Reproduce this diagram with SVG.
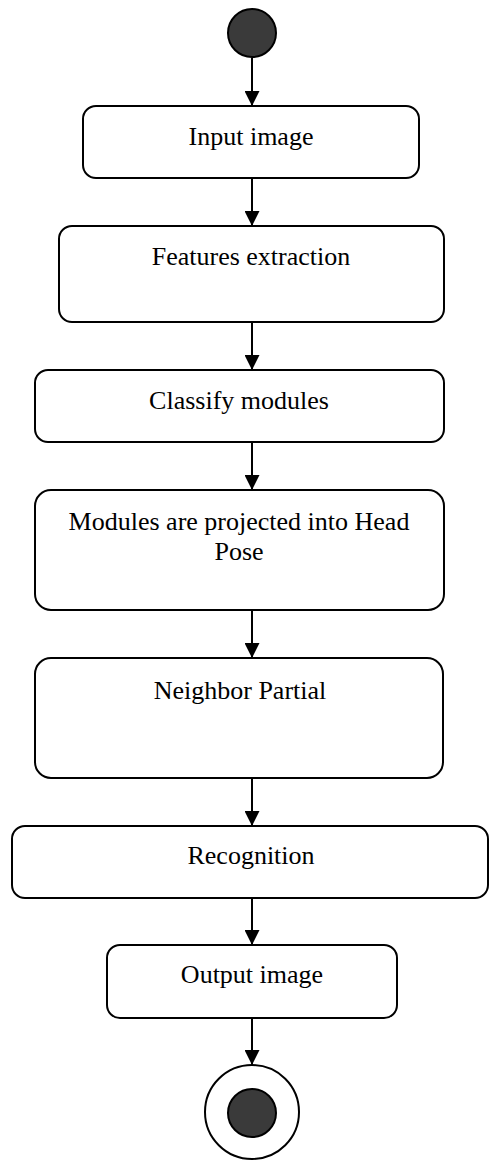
<svg xmlns="http://www.w3.org/2000/svg" width="489" height="1162" viewBox="0 0 489 1162">
<style>
.box{fill:#fff;stroke:#000;stroke-width:2}
.lbl{font-family:'Liberation Serif','Times New Roman',Times,'DejaVu Serif',serif;font-size:26px;fill:#000;text-anchor:middle}
.con{stroke:#000;stroke-width:2;fill:none}
.dot{fill:#3a3a3a;stroke:#000;stroke-width:2}
</style>
<defs>
<marker id="ah" markerWidth="15" markerHeight="15" refX="15" refY="7.5" orient="auto" markerUnits="userSpaceOnUse">
<path d="M0,0 L15,7.5 L0,15 Z" fill="#000"/>
</marker>
</defs>
<rect width="489" height="1162" fill="#fff"/>
<g id="connectors">
<line class="con" x1="252" y1="58" x2="252" y2="106" marker-end="url(#ah)"/>
<line class="con" x1="252" y1="178" x2="252" y2="226" marker-end="url(#ah)"/>
<line class="con" x1="252" y1="322" x2="252" y2="370" marker-end="url(#ah)"/>
<line class="con" x1="252" y1="442" x2="252" y2="490" marker-end="url(#ah)"/>
<line class="con" x1="252" y1="610" x2="252" y2="658" marker-end="url(#ah)"/>
<line class="con" x1="252" y1="778" x2="252" y2="826" marker-end="url(#ah)"/>
<line class="con" x1="252" y1="898" x2="252" y2="945" marker-end="url(#ah)"/>
<line class="con" x1="252" y1="1018" x2="252" y2="1065" marker-end="url(#ah)"/>
</g>
<g id="start"><circle class="dot" cx="252" cy="33" r="24"/></g>
<g id="input"><rect class="box" x="83" y="106" width="336" height="72" rx="13"/><text class="lbl" x="251" y="145">Input image</text></g>
<g id="features"><rect class="box" x="59" y="226" width="385" height="96" rx="13"/><text class="lbl" x="251" y="265">Features extraction</text></g>
<g id="classify"><rect class="box" x="35" y="370" width="409" height="72" rx="13"/><text class="lbl" x="239" y="409">Classify modules</text></g>
<g id="project"><rect class="box" x="35" y="490" width="409" height="120" rx="16"/><text class="lbl" x="239" y="530">Modules are projected into Head</text><text class="lbl" x="239" y="560">Pose</text></g>
<g id="neighbor"><rect class="box" x="35" y="658" width="408" height="120" rx="16"/><text class="lbl" x="240" y="699">Neighbor Partial</text></g>
<g id="recognition"><rect class="box" x="12" y="826" width="476" height="72" rx="13"/><text class="lbl" x="251" y="864">Recognition</text></g>
<g id="output"><rect class="box" x="107" y="945" width="290" height="73" rx="13"/><text class="lbl" x="252" y="983">Output image</text></g>
<g id="end"><circle cx="252" cy="1112" r="47" fill="#fff" stroke="#000" stroke-width="2"/><circle class="dot" cx="252" cy="1113" r="24"/></g>
</svg>
